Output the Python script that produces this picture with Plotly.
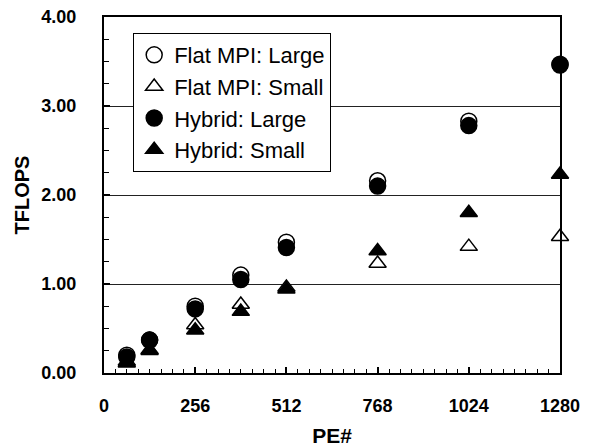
import plotly.graph_objects as go

pe = [64, 128, 256, 384, 512, 768, 1024, 1280]
flat_large = [0.20, 0.37, 0.75, 1.10, 1.47, 2.16, 2.83, 3.47]
flat_small = [0.13, 0.26, 0.54, 0.77, 0.96, 1.23, 1.42, 1.53]
hybrid_large = [0.18, 0.37, 0.72, 1.05, 1.41, 2.10, 2.78, 3.46]
hybrid_small = [0.11, 0.25, 0.48, 0.69, 0.94, 1.37, 1.80, 2.23]
x_ticks = [0, 256, 512, 768, 1024, 1280]
y_ticks = [0, 1, 2, 3, 4]

series = [
    ("Flat MPI: Large", flat_large, "circle", "white"),
    ("Flat MPI: Small", flat_small, "triangle-up", "white"),
    ("Hybrid: Large", hybrid_large, "circle", "black"),
    ("Hybrid: Small", hybrid_small, "triangle-up", "black"),
]

fig = go.Figure()
for name, ys, sym, fill in series:
    fig.add_trace(go.Scatter(
        x=pe, y=ys, mode="markers", name=name, cliponaxis=False,
        marker=dict(symbol=sym, size=16 if sym == "circle" else 15, color=fill,
                    line=dict(color="black", width=1.5)),
    ))

fig.update_layout(
    width=589, height=448,
    margin=dict(l=104, r=29, t=17, b=75),
    paper_bgcolor="white", plot_bgcolor="white",
    font=dict(family="Liberation Sans, Arial, sans-serif", color="black"),
    showlegend=True,
    legend=dict(x=0.064, y=0.955, xanchor="left", yanchor="top",
                bgcolor="white", bordercolor="black", borderwidth=1,
                font=dict(size=22), tracegroupgap=0),
    xaxis=dict(range=[0, 1280], tickvals=x_ticks, ticktext=[str(v) for v in x_ticks],
               automargin=False,
               ticks="inside", ticklen=6, tickwidth=1.5, tickcolor="black",
               minor=dict(dtick=32, tick0=0, ticks="inside", ticklen=4, tickwidth=1, tickcolor="black"),
               showline=True, linecolor="black", linewidth=2, mirror=True,
               showgrid=False, zeroline=False,
               tickfont=dict(size=18, family="Liberation Sans, Arial", weight="bold"),
               ticklabelstandoff=15,
               title=dict(text="<b>PE#</b>", font=dict(size=21), standoff=14)),
    yaxis=dict(range=[0, 4], tickvals=y_ticks, tickformat=".2f",
               automargin=False,
               ticks="inside", ticklen=6, tickwidth=1.5, tickcolor="black",
               minor=dict(dtick=0.25, tick0=0, ticks="inside", ticklen=5, tickwidth=1, tickcolor="black", showgrid=False),
               showline=True, linecolor="black", linewidth=2, mirror=True,
               showgrid=True, gridcolor="#222222", gridwidth=1, zeroline=False,
               tickfont=dict(size=18, family="Liberation Sans, Arial", weight="bold"),
               ticklabelstandoff=22,
               title=dict(text="<b>TFLOPS</b>", font=dict(size=20), standoff=6)),
)

fig.write_html("out.html")
